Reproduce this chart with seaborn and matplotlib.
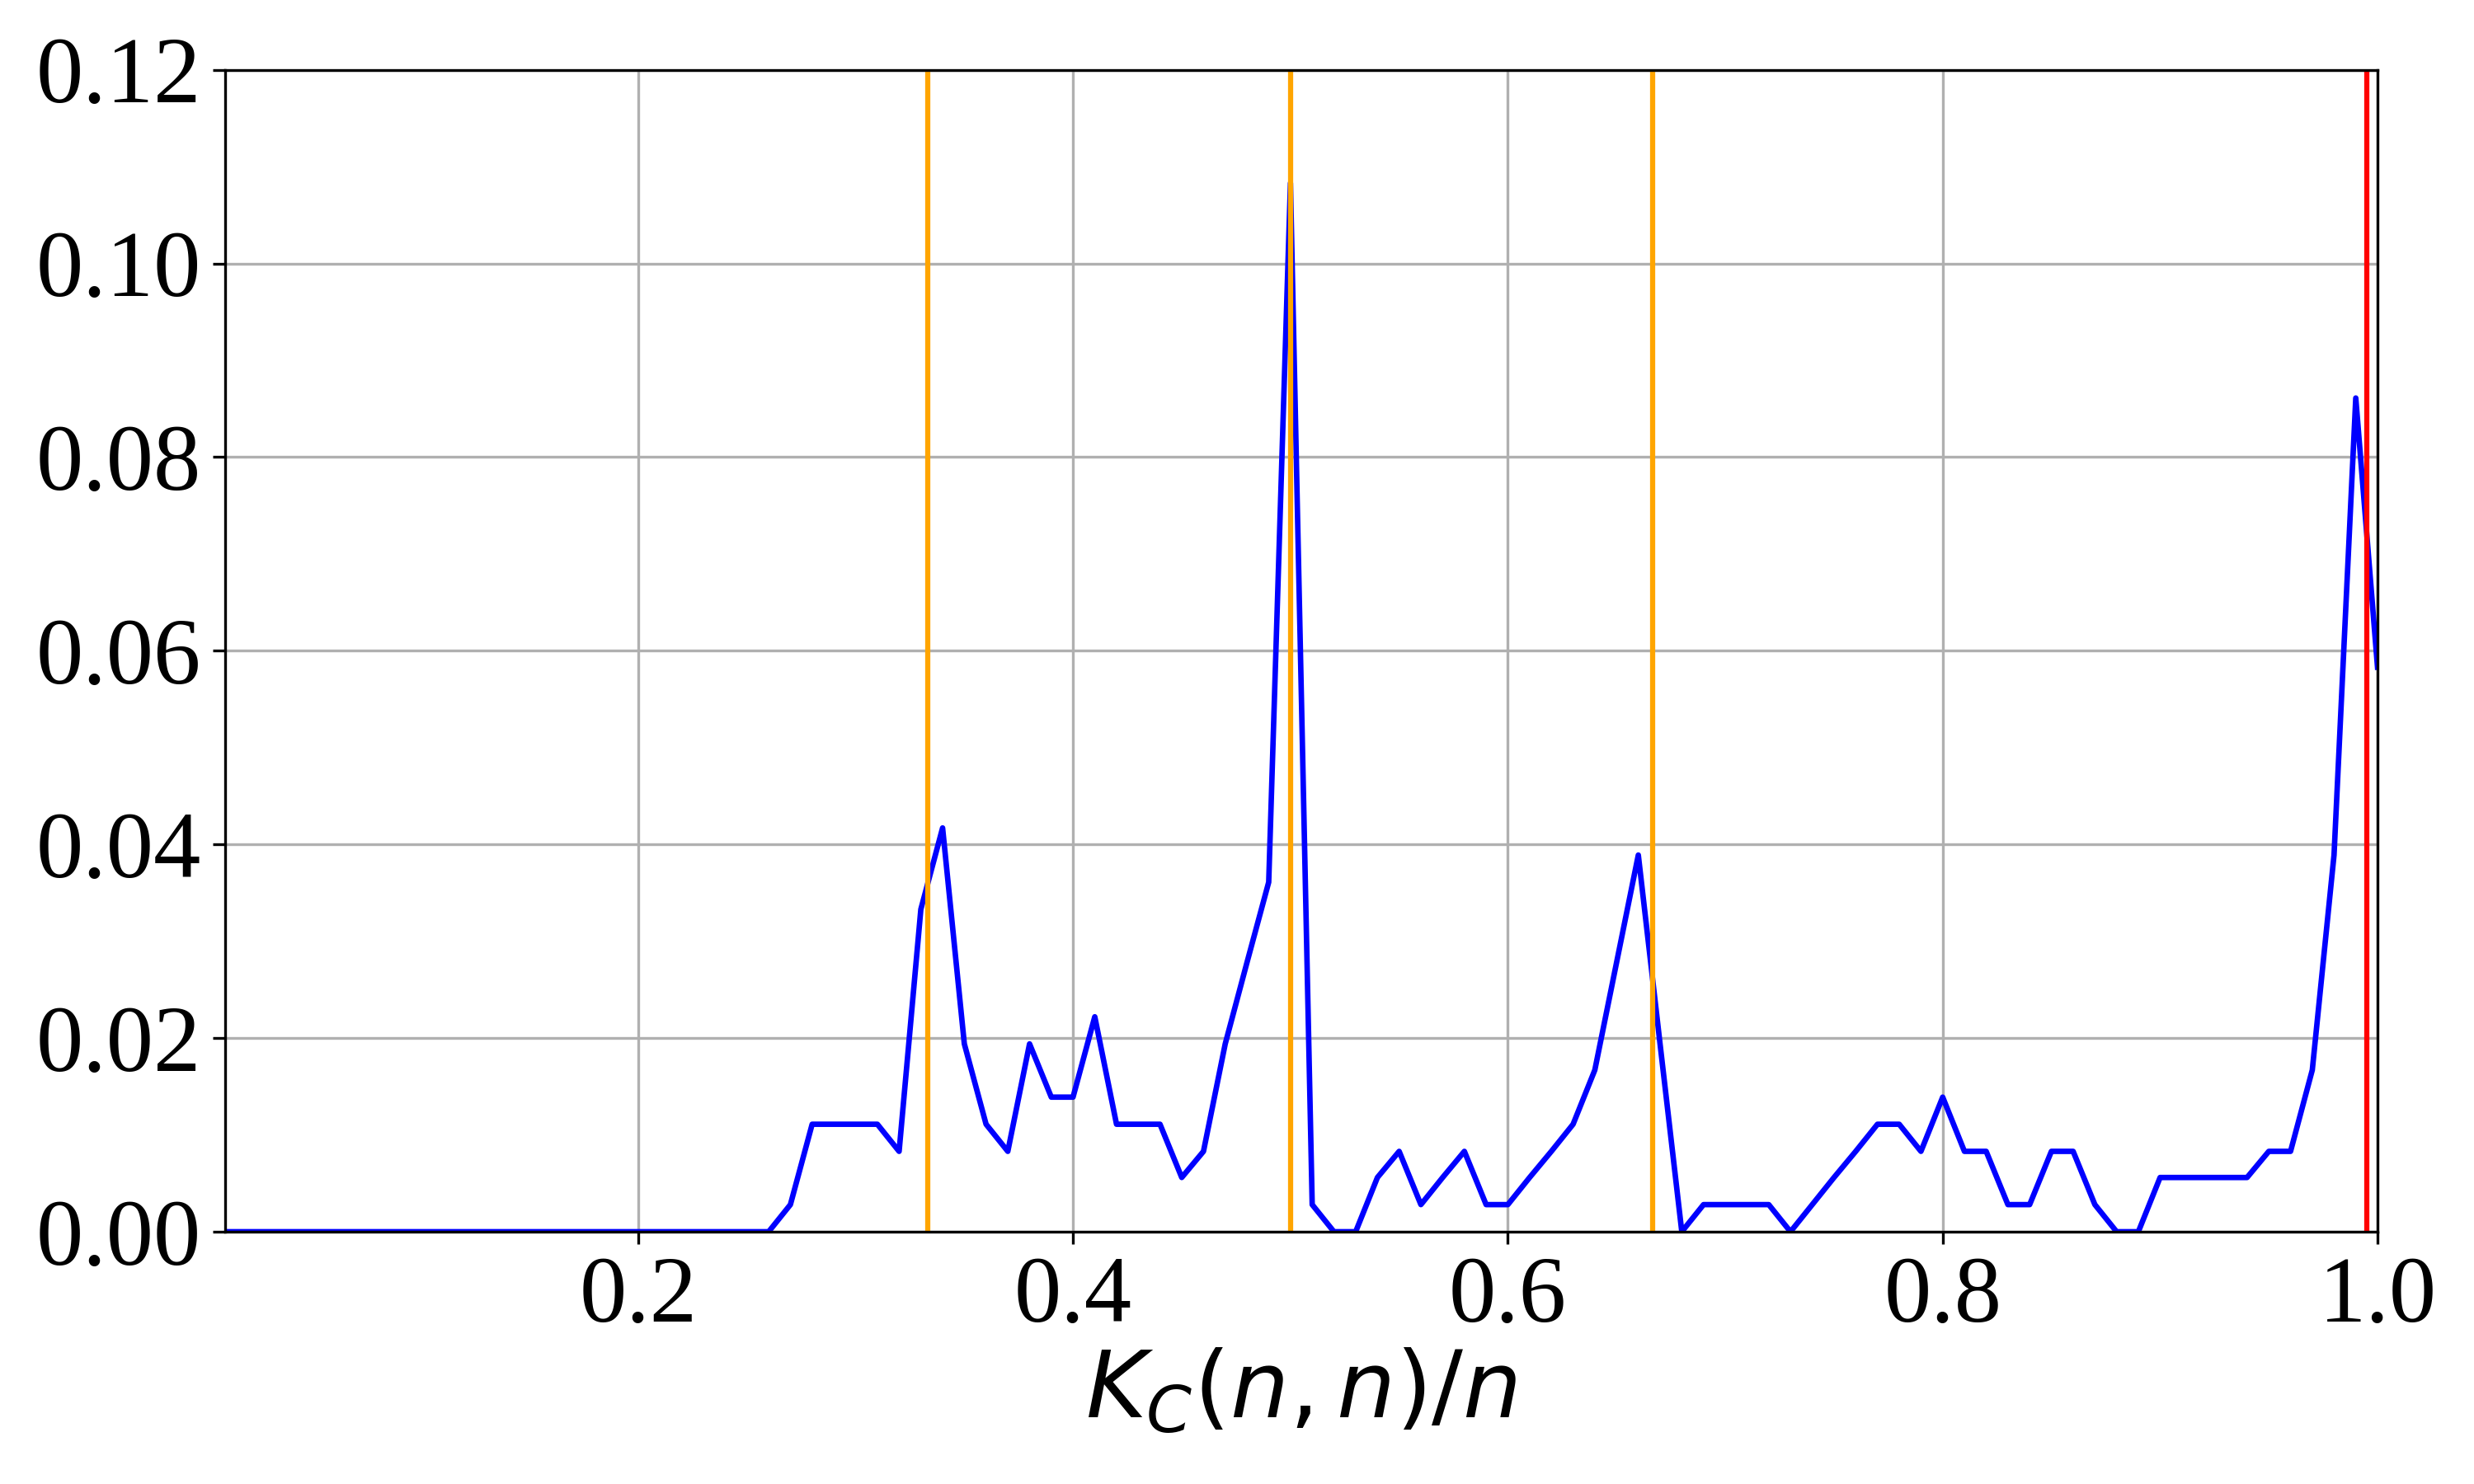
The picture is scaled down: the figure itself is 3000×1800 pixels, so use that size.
import numpy as np
import pandas as pd
import seaborn as sns
import matplotlib.pyplot as plt

# x positions K_C(n,n)/n and the measured share at each one
ratio = np.round(np.arange(1, 101) * 0.01, 2)
share = (
    [0.0] * 26
    + [0.0028, 0.0111, 0.0111, 0.0111, 0.0111, 0.0083, 0.0333, 0.0417, 0.0194,
       0.0111, 0.0083, 0.0194, 0.0139, 0.0139, 0.0222, 0.0111, 0.0111, 0.0111,
       0.0056, 0.0083, 0.0194, 0.0278, 0.0361, 0.1083, 0.0028, 0.0, 0.0,
       0.0056, 0.0083, 0.0028, 0.0056, 0.0083, 0.0028, 0.0028, 0.0056, 0.0083,
       0.0111, 0.0167, 0.0278, 0.0389, 0.0194, 0.0, 0.0028, 0.0028, 0.0028,
       0.0028, 0.0, 0.0028, 0.0056, 0.0083, 0.0111, 0.0111, 0.0083, 0.0139,
       0.0083, 0.0083, 0.0028, 0.0028, 0.0083, 0.0083, 0.0028, 0.0, 0.0,
       0.0056, 0.0056, 0.0056, 0.0056, 0.0056, 0.0083, 0.0083, 0.0167, 0.0389,
       0.0861, 0.0583]
)

# reference fractions
fractions = [1 / 3, 1 / 2, 2 / 3]
limit_line = 0.995

df = pd.DataFrame({'ratio': ratio, 'share': share})

plt.rcParams['font.family'] = ['Liberation Serif', 'DejaVu Serif']
plt.rcParams['font.size'] = 27.5

fig, ax = plt.subplots(figsize=(10, 6), dpi=300)
fig.subplots_adjust(left=0.091, right=0.961, top=0.953, bottom=0.17)

sns.lineplot(data=df, x='ratio', y='share', color='blue', linewidth=1.6, ax=ax)

# vertical markers for simple fractions and the limit
for f in fractions:
    ax.axvline(f, color='orange', linewidth=1.5)
ax.axvline(limit_line, color='red', linewidth=1.5)

ax.set_xlim(0.01, 1.0)
ax.set_ylim(0, 0.12)
ax.set_xticks([0.2, 0.4, 0.6, 0.8, 1.0])
ax.set_yticks([0.0, 0.02, 0.04, 0.06, 0.08, 0.10, 0.12])
ax.set_xticklabels(['0.2', '0.4', '0.6', '0.8', '1.0'])
ax.set_yticklabels(['0.00', '0.02', '0.04', '0.06', '0.08', '0.10', '0.12'])
ax.grid(True)
ax.set_xlabel('$K_C(n,n)/n$', fontsize=27, labelpad=2)
ax.set_ylabel('')

fig.savefig('out.png', dpi=300)
